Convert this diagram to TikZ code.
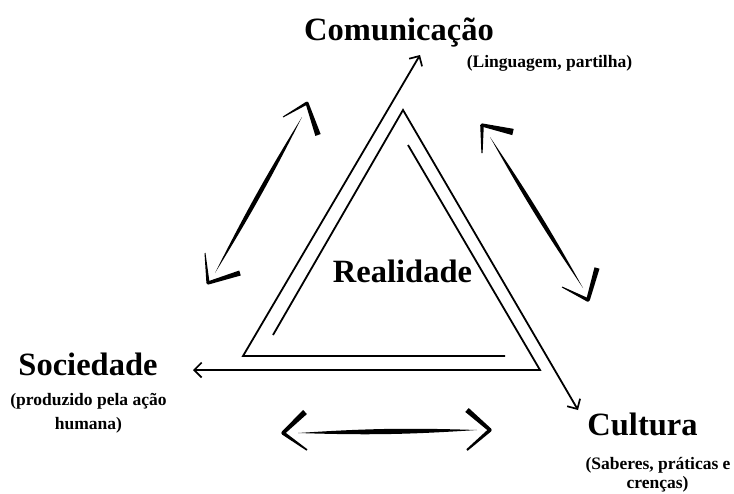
\documentclass[tikz,border=0pt]{standalone}
\usepackage{fontspec}
\setmainfont{Liberation Serif}
\usetikzlibrary{arrows.meta,calc}
\newcommand{\brushseg}[4]{\fill ($(#1)!#3!90:(#2)$) -- ($(#2)!#4!-90:(#1)$) -- ($(#2)!#4!90:(#1)$) -- ($(#1)!#3!-90:(#2)$) -- cycle;}
\newcommand{\brushlens}[3]{\fill (#1) to[bend left=#3] (#2) to[bend left=#3] (#1) -- cycle;}
\begin{document}
\begin{tikzpicture}[x=1pt,y=-1pt,
  tri/.style={line width=1.8pt, line join=miter},
  arrowline/.style={-{Straight Barb[length=7.5pt,width=15pt,line width=1.7pt]}},
  title/.style={font=\bfseries\fontsize{32.5}{36}\selectfont, inner sep=0pt, anchor=base},
  sub/.style={font=\bfseries\fontsize{17.5}{21}\selectfont, inner sep=0pt, anchor=base}]
\useasboundingbox (0,0) rectangle (734,493);

% labels
\node[title] (com) at (399,40) {Comunicação};
\node[sub] (comsub) at (549.5,67) {(Linguagem, partilha)};
\node[title] (real) at (402.5,282) {Realidade};
\node[title] (soc) at (88,375) {Sociedade};
\node[sub] (socsub1) at (88.5,405.5) {(produzido pela ação};
\node[sub] (socsub2) at (88.5,429) {humana)};
\node[title] (cul) at (642.5,435) {Cultura};
\node[sub] (culsub1) at (658,469) {(Saberes, práticas e};
\node[sub] (culsub2) at (657.5,488.5) {crenças)};

% spiral triangle
\coordinate (p1s) at (505,356);
\coordinate (p1c) at (243,356);
\coordinate (comT) at (420,55);
\draw[tri, arrowline] (p1s) -- (p1c) -- (comT);

\coordinate (p2s) at (273,335);
\coordinate (apex) at (403,110);
\coordinate (culT) at (578,410);
\draw[tri, arrowline] (p2s) -- (apex) -- (culT);

\coordinate (p3s) at (408,145);
\coordinate (p3c) at (540,370);
\coordinate (socT) at (193,370);
\draw[tri, arrowline] (p3s) -- (p3c) -- (socT);

% brush double arrows: left
\coordinate (lA) at (302,117); \coordinate (lB) at (215,273);
\coordinate (lT1) at (307,103); \coordinate (lT1a) at (283,117); \coordinate (lT1b) at (318,135);
\coordinate (lT2) at (208,283); \coordinate (lT2a) at (205,253); \coordinate (lT2b) at (240,273);
\brushlens{lA}{lB}{2.4}
\brushseg{lT1a}{lT1}{0.5pt}{1.5pt}
\brushseg{lT1}{lT1b}{1.5pt}{2.8pt}
\brushseg{lT2a}{lT2}{0.5pt}{1.6pt}
\brushseg{lT2}{lT2b}{1.6pt}{2.6pt}
\fill (lT1) circle (1.5pt);
\fill (lT2) circle (1.6pt);

% right
\coordinate (rA) at (490,137); \coordinate (rB) at (583,288);
\coordinate (rT1) at (482,125); \coordinate (rT1a) at (513,132); \coordinate (rT1b) at (482,153);
\coordinate (rT2) at (588,300); \coordinate (rT2a) at (597,268); \coordinate (rT2b) at (562,287);
\brushlens{rA}{rB}{2.4}
\brushseg{rT1}{rT1a}{1.6pt}{3.2pt}
\brushseg{rT1}{rT1b}{1.8pt}{0.6pt}
\brushseg{rT2a}{rT2}{2.6pt}{1.8pt}
\brushseg{rT2b}{rT2}{0.5pt}{1.8pt}
\fill (rT1) circle (1.7pt);
\fill (rT2) circle (1.8pt);

% bottom
\coordinate (bA) at (298,433); \coordinate (bB) at (477,430);
\coordinate (bT1) at (283,433); \coordinate (bT1a) at (305,412); \coordinate (bT1b) at (307,450);
\coordinate (bT2) at (490,430); \coordinate (bT2a) at (467,410); \coordinate (bT2b) at (467,450);
\brushlens{bA}{bB}{2.8}
\brushseg{bT1a}{bT1}{2.8pt}{1.8pt}
\brushseg{bT1}{bT1b}{1.8pt}{0.8pt}
\brushseg{bT2a}{bT2}{2.6pt}{1.8pt}
\brushseg{bT2}{bT2b}{1.8pt}{1pt}
\fill (bT1) circle (1.8pt);
\fill (bT2) circle (1.8pt);
\end{tikzpicture}
\end{document}
